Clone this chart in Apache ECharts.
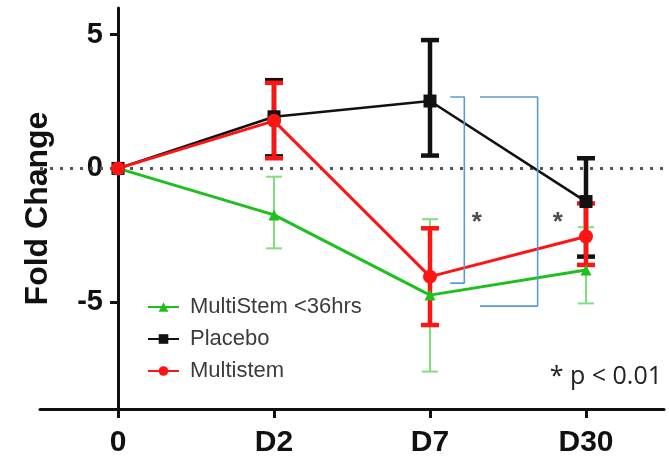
<!DOCTYPE html>
<html>
<head>
<meta charset="utf-8">
<script src="https://cdn.jsdelivr.net/npm/echarts@6/dist/echarts.min.js"></script>
<style>
html,body{margin:0;padding:0;background:#fff;}
#chart{width:669px;height:459px;}
</style>
</head>
<body>
<div id="chart"></div>
<script>
// ---- data ----
const categories = ['0', 'D2', 'D7', 'D30'];
const xPos = [0, 1, 2, 3];
const yTicks = [-5, 0, 5];

const placeboMean = [0, 1.93, 2.52, -1.24];
const placeboLow  = [0, 0.45, 0.48, -3.3];
const placeboHigh = [0, 3.3, 4.8, 0.38];

const multistemMean = [0, 1.78, -4.05, -2.55];
const multistemLow  = [0, 0.38, -5.86, -3.61];
const multistemHigh = [0, 3.2, -2.24, -1.31];

const early36Mean = [0, -1.74, -4.74, -3.8];
const early36Low  = [0, -2.99, -7.6, -5.05];
const early36High = [0, -0.31, -1.9, -2.2];

// significance brackets (x in axis units, y in fold change)
const bracket1 = [[2.13, 2.67], [2.22, 2.67], [2.22, -4.29], [2.13, -4.29]];
const bracket2 = [[2.32, 2.67], [2.69, 2.67], [2.69, -5.15], [2.32, -5.15]];
const stars = [[2.30, -1.74], [2.82, -1.74]];

// ---- build ----
function pts(mean) { return xPos.map((x, i) => [x, mean[i]]); }
function errs(lo, hi) { return xPos.map((x, i) => [x, lo[i], hi[i]]); }
function errRender(capW, lw, color) {
  return function (params, api) {
    const x = api.value(0), lo = api.value(1), hi = api.value(2);
    if (lo === hi) return null;
    const p1 = api.coord([x, lo]), p2 = api.coord([x, hi]);
    const h = capW / 2;
    const st = { stroke: color, lineWidth: lw };
    return {
      type: 'group', children: [
        { type: 'line', shape: { x1: p1[0], y1: p1[1], x2: p2[0], y2: p2[1] }, style: st },
        { type: 'line', shape: { x1: p1[0] - h, y1: p1[1], x2: p1[0] + h, y2: p1[1] }, style: st },
        { type: 'line', shape: { x1: p2[0] - h, y1: p2[1], x2: p2[0] + h, y2: p2[1] }, style: st }
      ]
    };
  };
}

const BLACK = '#111111', RED = '#ff1414', GREEN = '#1ec01e', LGREEN = '#7fe07f', BLUE = '#5b9bd5';
const FONT = 'Liberation Sans, Arial, sans-serif';
const GRID_LEFT = 40, GRID_RIGHT = 5, W = 669;
const xMin = -0.5, xMax = 3.5;
// shift the y axis so it sits at x = 0 of the x scale
const yAxisOffset = -((0 - xMin) / (xMax - xMin)) * (W - GRID_LEFT - GRID_RIGHT);

const chart = echarts.init(document.getElementById('chart'));
chart.setOption({
  animation: false,
  backgroundColor: '#fff',
  grid: { left: GRID_LEFT, right: GRID_RIGHT, top: 8, bottom: 50, containLabel: false, outerBoundsMode: 'none' },
  legend: {
    orient: 'vertical', left: 142, top: 291,
    itemWidth: 31, itemHeight: 12, itemGap: 10,
    data: ['MultiStem <36hrs', 'Placebo', 'Multistem'],
    textStyle: { fontFamily: FONT, fontSize: 22, color: '#3c3c3c', padding: [0, 0, 0, 6] }
  },
  xAxis: {
    type: 'value', min: xMin, max: xMax,
    splitLine: { show: false },
    axisLine: { onZero: false, lineStyle: { color: BLACK, width: 3 } },
    axisTick: { show: true, customValues: xPos, length: 9, lineStyle: { color: BLACK, width: 3 } },
    axisLabel: {
      customValues: xPos, margin: 19,
      formatter: v => categories[Math.round(v)],
      fontFamily: FONT, fontSize: 30, fontWeight: 'bold', color: '#111'
    }
  },
  yAxis: {
    type: 'value', min: -9, max: 6, position: 'left', offset: yAxisOffset,
    name: 'Fold Change', nameLocation: 'middle', nameGap: 64, nameRotate: 90,
    nameTextStyle: { fontFamily: FONT, fontSize: 32, fontWeight: 'bold', color: '#111' },
    splitLine: { show: false },
    axisLine: { onZero: false, lineStyle: { color: BLACK, width: 3 } },
    axisTick: { show: true, customValues: yTicks, length: 8, lineStyle: { color: BLACK, width: 3 } },
    axisLabel: { customValues: yTicks, margin: 15, fontFamily: FONT, fontSize: 29, fontWeight: 'bold', color: '#111' }
  },
  graphic: [{
    type: 'text', right: 7, top: 364,
    style: { text: '* p < 0.01', fontFamily: 'Open Sans, sans-serif', fontSize: 25, fill: '#222' }
  }],
  series: [
    {
      type: 'line', data: [[xMin, 0], [xMax, 0]], symbol: 'none', silent: true,
      lineStyle: { color: '#555', width: 3, type: [3, 7] }, z: 1
    },
    { type: 'custom', data: errs(placeboLow, placeboHigh), renderItem: errRender(18, 4.5, BLACK), z: 2 },
    {
      name: 'Placebo', type: 'line', data: pts(placeboMean),
      symbol: 'rect', symbolSize: 13, lineStyle: { color: BLACK, width: 2.6 },
      itemStyle: { color: BLACK }, z: 2
    },
    { type: 'custom', data: errs(early36Low, early36High), renderItem: errRender(16, 2, LGREEN), z: 2 },
    {
      name: 'MultiStem <36hrs', type: 'line', data: pts(early36Mean),
      symbol: 'triangle', symbolSize: 11, lineStyle: { color: GREEN, width: 3 },
      itemStyle: { color: GREEN }, z: 2
    },
    { type: 'custom', data: errs(multistemLow, multistemHigh), renderItem: errRender(18, 4.5, RED), z: 2 },
    {
      name: 'Multistem', type: 'line', data: pts(multistemMean),
      symbol: 'circle', symbolSize: 14, lineStyle: { color: RED, width: 3 },
      itemStyle: { color: RED }, z: 2
    },
    { type: 'line', data: bracket1, symbol: 'none', lineStyle: { color: BLUE, width: 1.6 }, z: 3 },
    { type: 'line', data: bracket2, symbol: 'none', lineStyle: { color: BLUE, width: 1.6 }, z: 3 },
    {
      type: 'scatter', data: stars, symbolSize: 0, z: 3,
      label: { show: true, position: 'inside', formatter: '*', offset: [0, 8], fontFamily: FONT, fontSize: 26, fontWeight: 'bold', color: '#222' }
    }
  ]
});
</script>
</body>
</html>
